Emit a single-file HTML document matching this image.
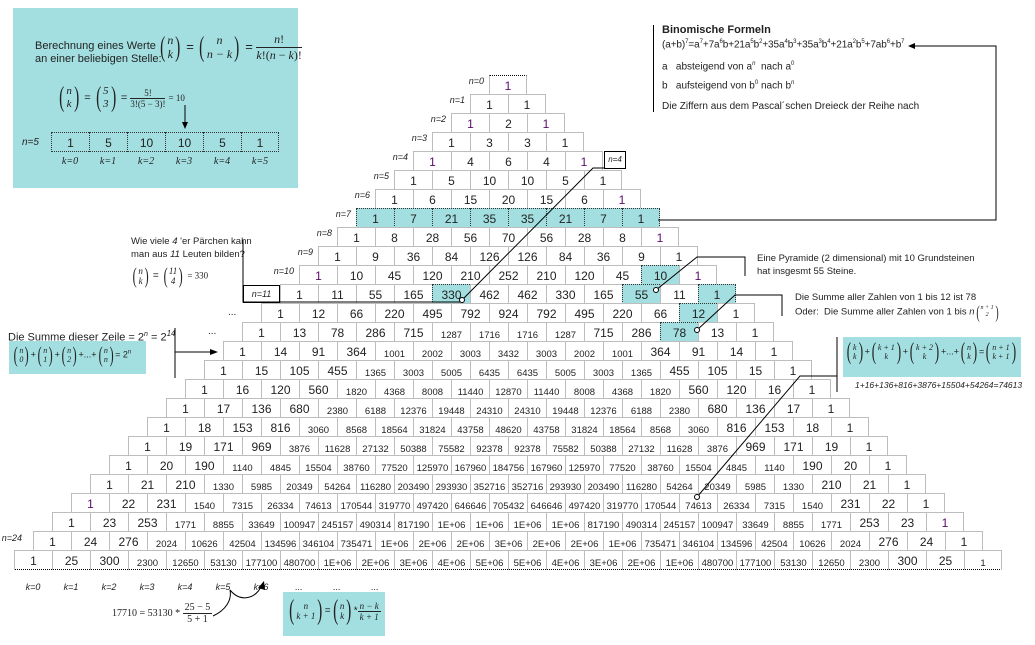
<!DOCTYPE html>
<html><head><meta charset="utf-8"><style>
*{margin:0;padding:0;box-sizing:border-box}
body{width:1035px;height:645px;background:#fff;position:relative;overflow:hidden;font-family:"Liberation Sans",Arial,sans-serif;color:#222}
.a{position:absolute;white-space:nowrap}
.r{position:absolute;display:flex;height:19px}
.r span,.r em{display:block;width:38px;height:20px;border-left:1px solid #bdbdbd;border-top:1px solid #bdbdbd;text-align:center;font-size:12px;line-height:20px;font-style:normal}
.r :last-child{border-right:1px solid #bdbdbd}
.r em{font-size:9.5px;line-height:10px;padding-top:8px}
.r .h{background:#a3dfe0;border:1px dotted #333;border-right:none}
.r .h:last-child{border-right:1px dotted #333}
.r .p{color:#5a0a6a}
.nl{position:absolute;font-size:9px;font-style:italic;text-align:right;width:40px}
.teal{background:#a3dfe0;position:absolute}
.bn{display:inline-flex;align-items:center;vertical-align:middle}
.bn .q{font-size:28px;font-family:"Liberation Serif",serif;font-weight:100;transform:scaleX(.55);line-height:1}
.bn .st{display:inline-flex;flex-direction:column;text-align:center;line-height:1.15;font-family:"Liberation Serif",serif;font-style:italic;font-size:11px}
.fr{display:inline-flex;flex-direction:column;text-align:center;vertical-align:middle;font-family:"Liberation Serif",serif;font-size:11px}
.fr span:first-child{border-bottom:1px solid #222;padding:0 2px}
.ser{font-family:"Liberation Serif",serif}
sup{font-size:6px}
</style></head><body>

<!-- top-left teal box -->
<div class="teal" style="left:13px;top:8px;width:285px;height:180px"></div>
<div class="a" style="left:35px;top:40px;font-size:11px;line-height:13px">Berechnung eines Werte<br>an einer beliebigen Stelle:</div>
<div class="a" style="left:158px;top:32px;font-size:13px">
<span class="bn"><span class="q">(</span><span class="st" style="font-size:12px"><i>n</i><i>k</i></span><span class="q">)</span></span> =
<span class="bn"><span class="q">(</span><span class="st" style="font-size:12px"><i>n</i><i>n − k</i></span><span class="q">)</span></span> =
<span class="fr" style="font-size:12px"><span><i>n</i>!</span><span><i>k</i>!(<i>n</i> − <i>k</i>)!</span></span></div>
<div class="a" style="left:57px;top:84px;font-size:11px">
<span class="bn"><span class="q">(</span><span class="st"><i>n</i><i>k</i></span><span class="q">)</span></span> =
<span class="bn"><span class="q">(</span><span class="st"><i>5</i><i>3</i></span><span class="q">)</span></span> =
<span class="fr" style="font-size:9px"><span>5!</span><span>3!(5 − 3)!</span></span> <span class="ser" style="font-size:9px">= 10</span></div>
<svg class="a" style="left:0;top:0" width="300" height="200"><line x1="185" y1="105" x2="185" y2="127" stroke="#000"/><path d="M182,122 L185,129 L188,122" fill="#000"/></svg>
<div class="r" style="left:51px;top:132px">
<span style="border:1px dotted #333;border-right:none">1</span><span style="border:1px dotted #333;border-right:none">5</span><span style="border:1px dotted #333;border-right:none">10</span><span style="border:1px dotted #333;border-right:none">10</span><span style="border:1px dotted #333;border-right:none">5</span><span style="border:1px dotted #333">1</span></div>
<div class="a" style="left:22px;top:137px;font-size:10px;font-style:italic" >n=5</div>
<div class="a ser" style="left:51px;top:156px;font-size:10px;font-style:italic;display:flex"><span style="width:38px;text-align:center">k=0</span><span style="width:38px;text-align:center">k=1</span><span style="width:38px;text-align:center">k=2</span><span style="width:38px;text-align:center">k=3</span><span style="width:38px;text-align:center">k=4</span><span style="width:38px;text-align:center">k=5</span></div>

<!-- top-right -->
<div class="a" style="left:653px;top:25px;width:1px;height:87px;background:#000"></div>
<div class="a" style="left:662px;top:24px;font-size:11px"><b>Binomische Formeln</b></div>
<div class="a" style="left:662px;top:39px;font-size:10px;letter-spacing:-0.1px">(a+b)<sup>7</sup>=a<sup>7</sup>+7a<sup>6</sup>b+21a<sup>5</sup>b<sup>2</sup>+35a<sup>4</sup>b<sup>3</sup>+35a<sup>3</sup>b<sup>4</sup>+21a<sup>2</sup>b<sup>5</sup>+7ab<sup>6</sup>+b<sup>7</sup></div>
<div class="a" style="left:662px;top:61px;font-size:10px">a&nbsp;&nbsp; absteigend von a<sup><i>n</i></sup>&nbsp; nach a<sup>0</sup></div>
<div class="a" style="left:662px;top:80px;font-size:10px">b&nbsp;&nbsp; aufsteigend von b<sup>0</sup> nach b<sup><i>n</i></sup></div>
<div class="a" style="left:662px;top:101px;font-size:10px">Die Ziffern aus dem Pascal´schen Dreieck der Reihe nach</div>

<!-- left annotations -->
<div class="a" style="left:131px;top:235px;font-size:9.5px;line-height:13px">Wie viele <i>4</i> 'er Pärchen kahn<br>man aus <i>11</i> Leuten bilden?</div>
<div class="a" style="left:131px;top:265px;font-size:10px"><span class="bn"><span class="q" style="font-size:22px">(</span><span class="st" style="font-size:9px"><i>n</i><i>k</i></span><span class="q" style="font-size:22px">)</span></span> = <span class="bn"><span class="q" style="font-size:22px">(</span><span class="st" style="font-size:9px"><i>11</i><i>4</i></span><span class="q" style="font-size:22px">)</span></span> <span class="ser" style="font-size:9px">= 330</span></div>
<div class="a" style="left:8px;top:329px;font-size:11px">Die Summe dieser Zeile = 2<sup style="font-size:7px"><i>n</i></sup> = 2<sup style="font-size:8px"><i>14</i></sup></div>
<div class="teal" style="left:9px;top:341px;width:137px;height:33px"></div>
<div class="a" style="left:12px;top:344px;font-size:9px"><span class="bn"><span class="q" style="font-size:22px">(</span><span class="st" style="font-size:8px"><i>n</i><i>0</i></span><span class="q" style="font-size:22px">)</span></span>+<span class="bn"><span class="q" style="font-size:22px">(</span><span class="st" style="font-size:8px"><i>n</i><i>1</i></span><span class="q" style="font-size:22px">)</span></span>+<span class="bn"><span class="q" style="font-size:22px">(</span><span class="st" style="font-size:8px"><i>n</i><i>2</i></span><span class="q" style="font-size:22px">)</span></span>+...+<span class="bn"><span class="q" style="font-size:22px">(</span><span class="st" style="font-size:8px"><i>n</i><i>n</i></span><span class="q" style="font-size:22px">)</span></span>= 2<sup>n</sup></div>
<div class="a" style="left:228px;top:307px;font-size:10px">...</div>
<div class="a" style="left:208px;top:326px;font-size:10px">...</div>

<!-- right annotations -->
<div class="a" style="left:757px;top:252px;font-size:9.5px;line-height:13px">Eine Pyramide (2 dimensional) mit 10 Grundsteinen<br>hat insgesmt 55 Steine.</div>
<div class="a" style="left:795px;top:292px;font-size:9.5px">Die Summe aller Zahlen von 1 bis 12 ist 78</div>
<div class="a" style="left:795px;top:303px;font-size:9.5px">Oder:&nbsp; Die Summe aller Zahlen von 1 bis <i>n</i><span class="bn"><span class="q" style="font-size:18px">(</span><span class="st" style="font-size:6px"><i>n + 1</i><i>2</i></span><span class="q" style="font-size:18px">)</span></span></div>
<div class="teal" style="left:843px;top:337px;width:178px;height:40px"></div>
<div class="a" style="left:845px;top:340px;font-size:9px"><span class="bn"><span class="q" style="font-size:24px">(</span><span class="st" style="font-size:8px"><i>k</i><i>k</i></span><span class="q" style="font-size:24px">)</span></span>+<span class="bn"><span class="q" style="font-size:24px">(</span><span class="st" style="font-size:8px"><i>k + 1</i><i>k</i></span><span class="q" style="font-size:24px">)</span></span>+<span class="bn"><span class="q" style="font-size:24px">(</span><span class="st" style="font-size:8px"><i>k + 2</i><i>k</i></span><span class="q" style="font-size:24px">)</span></span>+...+<span class="bn"><span class="q" style="font-size:24px">(</span><span class="st" style="font-size:8px"><i>n</i><i>k</i></span><span class="q" style="font-size:24px">)</span></span>=<span class="bn"><span class="q" style="font-size:24px">(</span><span class="st" style="font-size:8px"><i>n + 1</i><i>k + 1</i></span><span class="q" style="font-size:24px">)</span></span></div>
<div class="a" style="left:855px;top:380px;font-size:8.5px;font-style:italic">1+16+136+816+3876+15504+54264=74613</div>

<!-- bottom -->
<div class="a ser" style="left:112px;top:602px;font-size:10px">17710 = 53130 * <span class="fr" style="font-size:10px"><span>25 − 5</span><span>5 + 1</span></span></div>
<div class="teal" style="left:283px;top:592px;width:102px;height:44px"></div>
<div class="a" style="left:287px;top:597px;font-size:10px"><span class="bn"><span class="q">(</span><span class="st" style="font-size:9px"><i>n</i><i>k + 1</i></span><span class="q">)</span></span>=<span class="bn"><span class="q">(</span><span class="st" style="font-size:9px"><i>n</i><i>k</i></span><span class="q">)</span></span>*<span class="fr" style="font-size:9px"><span><i>n − k</i></span><span><i>k + 1</i></span></span></div>
<div class="a" style="left:14px;top:582px;font-size:9px;font-style:italic;display:flex"><span style="width:38px;text-align:center">k=0</span><span style="width:38px;text-align:center">k=1</span><span style="width:38px;text-align:center">k=2</span><span style="width:38px;text-align:center">k=3</span><span style="width:38px;text-align:center">k=4</span><span style="width:38px;text-align:center">k=5</span><span style="width:38px;text-align:center">k=6</span><span style="width:38px;text-align:center">...</span><span style="width:38px;text-align:center">...</span><span style="width:38px;text-align:center">...</span></div>
<div class="a" style="left:14px;top:569px;width:988px;border-top:1px dotted #000"></div>

<!-- n labels -->
<div class="nl" style="left:444px;top:76px">n=0</div>
<div class="nl" style="left:425px;top:95px">n=1</div>
<div class="nl" style="left:406px;top:114px">n=2</div>
<div class="nl" style="left:387px;top:133px">n=3</div>
<div class="nl" style="left:368px;top:152px">n=4</div>
<div class="nl" style="left:349px;top:171px">n=5</div>
<div class="nl" style="left:330px;top:190px">n=6</div>
<div class="nl" style="left:311px;top:209px">n=7</div>
<div class="nl" style="left:292px;top:228px">n=8</div>
<div class="nl" style="left:273px;top:247px">n=9</div>
<div class="nl" style="left:254px;top:266px">n=10</div>
<div class="nl" style="left:-18px;top:533px">n=24</div>
<div class="a" style="left:243px;top:285px;width:37px;height:18px;border:1px solid #000;font-size:9px;font-style:italic;text-align:center;line-height:16px">n=11</div>
<div class="a" style="left:604px;top:151px;width:22px;height:18px;border:1px solid #000;font-size:8px;font-style:italic;text-align:center;line-height:16px;background:#fff;z-index:2">n=4</div>

<!-- rows -->
<div class="r" style="left:489px;top:75px"><span class="p" style="border-top:1px dotted #000">1</span></div>
<div class="r" style="left:470px;top:94px"><span>1</span><span>1</span></div>
<div class="r" style="left:451px;top:113px"><span class="p">1</span><span>2</span><span class="p">1</span></div>
<div class="r" style="left:432px;top:132px"><span>1</span><span>3</span><span>3</span><span>1</span></div>
<div class="r" style="left:413px;top:151px"><span class="p">1</span><span>4</span><span>6</span><span>4</span><span class="p">1</span></div>
<div class="r" style="left:394px;top:170px"><span>1</span><span>5</span><span>10</span><span>10</span><span>5</span><span>1</span></div>
<div class="r" style="left:375px;top:189px"><span>1</span><span>6</span><span>15</span><span>20</span><span>15</span><span>6</span><span class="p">1</span></div>
<div class="r" style="left:356px;top:208px"><span class="h">1</span><span class="h">7</span><span class="h">21</span><span class="h">35</span><span class="h">35</span><span class="h">21</span><span class="h">7</span><span class="h">1</span></div>
<div class="r" style="left:337px;top:227px"><span>1</span><span>8</span><span>28</span><span>56</span><span>70</span><span>56</span><span>28</span><span>8</span><span class="p">1</span></div>
<div class="r" style="left:318px;top:246px"><span>1</span><span>9</span><span>36</span><span>84</span><span>126</span><span>126</span><span>84</span><span>36</span><span>9</span><span>1</span></div>
<div class="r" style="left:299px;top:265px"><span class="p">1</span><span>10</span><span>45</span><span>120</span><span>210</span><span>252</span><span>210</span><span>120</span><span>45</span><span class="h">10</span><span class="p" style="border-right:1px solid #bdbdbd">1</span></div>
<div class="r" style="left:280px;top:284px"><span>1</span><span>11</span><span>55</span><span>165</span><span class="h">330</span><span>462</span><span>462</span><span>330</span><span>165</span><span class="h">55</span><span>11</span><span class="h">1</span></div>
<div class="r" style="left:261px;top:303px"><span>1</span><span>12</span><span>66</span><span>220</span><span>495</span><span>792</span><span>924</span><span>792</span><span>495</span><span>220</span><span>66</span><span class="h">12</span><span>1</span></div>
<div class="r" style="left:242px;top:322px"><span>1</span><span>13</span><span>78</span><span>286</span><span>715</span><em>1287</em><em>1716</em><em>1716</em><em>1287</em><span>715</span><span>286</span><span class="h">78</span><span>13</span><span>1</span></div>
<div class="r" style="left:223px;top:341px"><span>1</span><span>14</span><span>91</span><span>364</span><em>1001</em><em>2002</em><em>3003</em><em>3432</em><em>3003</em><em>2002</em><em>1001</em><span>364</span><span>91</span><span>14</span><span>1</span></div>
<div class="r" style="left:204px;top:360px"><span>1</span><span>15</span><span>105</span><span>455</span><em>1365</em><em>3003</em><em>5005</em><em>6435</em><em>6435</em><em>5005</em><em>3003</em><em>1365</em><span>455</span><span>105</span><span>15</span><span>1</span></div>
<div class="r" style="left:185px;top:379px"><span>1</span><span>16</span><span>120</span><span>560</span><em>1820</em><em>4368</em><em>8008</em><em>11440</em><em>12870</em><em>11440</em><em>8008</em><em>4368</em><em>1820</em><span>560</span><span>120</span><span>16</span><span>1</span></div>
<div class="r" style="left:166px;top:398px"><span>1</span><span>17</span><span>136</span><span>680</span><em>2380</em><em>6188</em><em>12376</em><em>19448</em><em>24310</em><em>24310</em><em>19448</em><em>12376</em><em>6188</em><em>2380</em><span>680</span><span>136</span><span>17</span><span>1</span></div>
<div class="r" style="left:147px;top:417px"><span>1</span><span>18</span><span>153</span><span>816</span><em>3060</em><em>8568</em><em>18564</em><em>31824</em><em>43758</em><em>48620</em><em>43758</em><em>31824</em><em>18564</em><em>8568</em><em>3060</em><span>816</span><span>153</span><span>18</span><span>1</span></div>
<div class="r" style="left:128px;top:436px"><span>1</span><span>19</span><span>171</span><span>969</span><em>3876</em><em>11628</em><em>27132</em><em>50388</em><em>75582</em><em>92378</em><em>92378</em><em>75582</em><em>50388</em><em>27132</em><em>11628</em><em>3876</em><span>969</span><span>171</span><span>19</span><span>1</span></div>
<div class="r" style="left:109px;top:455px"><span>1</span><span>20</span><span>190</span><em>1140</em><em>4845</em><em>15504</em><em>38760</em><em>77520</em><em>125970</em><em>167960</em><em>184756</em><em>167960</em><em>125970</em><em>77520</em><em>38760</em><em>15504</em><em>4845</em><em>1140</em><span>190</span><span>20</span><span>1</span></div>
<div class="r" style="left:90px;top:474px"><span>1</span><span>21</span><span>210</span><em>1330</em><em>5985</em><em>20349</em><em>54264</em><em>116280</em><em>203490</em><em>293930</em><em>352716</em><em>352716</em><em>293930</em><em>203490</em><em>116280</em><em>54264</em><em>20349</em><em>5985</em><em>1330</em><span>210</span><span>21</span><span>1</span></div>
<div class="r" style="left:71px;top:493px"><span class="p">1</span><span>22</span><span>231</span><em>1540</em><em>7315</em><em>26334</em><em>74613</em><em>170544</em><em>319770</em><em>497420</em><em>646646</em><em>705432</em><em>646646</em><em>497420</em><em>319770</em><em>170544</em><em>74613</em><em>26334</em><em>7315</em><em>1540</em><span>231</span><span>22</span><span>1</span></div>
<div class="r" style="left:52px;top:512px"><span>1</span><span>23</span><span>253</span><em>1771</em><em>8855</em><em>33649</em><em>100947</em><em>245157</em><em>490314</em><em>817190</em><em>1E+06</em><em>1E+06</em><em>1E+06</em><em>1E+06</em><em>817190</em><em>490314</em><em>245157</em><em>100947</em><em>33649</em><em>8855</em><em>1771</em><span>253</span><span>23</span><span class="p">1</span></div>
<div class="r" style="left:33px;top:531px"><span>1</span><span>24</span><span>276</span><em>2024</em><em>10626</em><em>42504</em><em>134596</em><em>346104</em><em>735471</em><em>1E+06</em><em>2E+06</em><em>2E+06</em><em>3E+06</em><em>2E+06</em><em>2E+06</em><em>1E+06</em><em>735471</em><em>346104</em><em>134596</em><em>42504</em><em>10626</em><em>2024</em><span>276</span><span>24</span><span>1</span></div>
<div class="r" style="left:14px;top:550px"><span>1</span><span>25</span><span>300</span><em>2300</em><em>12650</em><em>53130</em><em>177100</em><em>480700</em><em>1E+06</em><em>2E+06</em><em>3E+06</em><em>4E+06</em><em>5E+06</em><em>5E+06</em><em>4E+06</em><em>3E+06</em><em>2E+06</em><em>1E+06</em><em>480700</em><em>177100</em><em>53130</em><em>12650</em><em>2300</em><span>300</span><span>25</span><em>1</em></div>

<!-- lines -->
<svg class="a" style="left:0;top:0;z-index:3" width="1035" height="645">
<g stroke="#000" fill="none" stroke-width="1">
<polyline points="604,168 593,168 462,300"/>
<polyline points="243,240 243,302 462,302"/>
<circle cx="462" cy="300" r="2.5" fill="#fff"/>
<polyline points="656,290 697,257 745,257 745,276"/>
<circle cx="656" cy="290" r="2.5" fill="#fff"/>
<polyline points="697,330 735,295 782,295 782,316"/>
<circle cx="697" cy="330" r="2.5" fill="#fff"/>
<polyline points="697,497 800,376 837,376"/>
<line x1="837" y1="337" x2="837" y2="392"/>
<circle cx="697" cy="497" r="2.5" fill="#fff"/>
<polyline points="658,220 996,220 996,46 912,46"/>
<line x1="175" y1="328" x2="175" y2="378"/>
<line x1="175" y1="352" x2="212" y2="352"/>
<path d="M213,616 C226,610 232,600 230,590 C240,602 255,600 262,585"/>
</g>
<path d="M908,46 L915,43 L915,49 Z" fill="#000"/>
<path d="M218,352 L210,349 L210,355 Z" fill="#000"/>
<path d="M264,581 L258,588 L265,590 Z" fill="#000"/>
</svg>
</body></html>
